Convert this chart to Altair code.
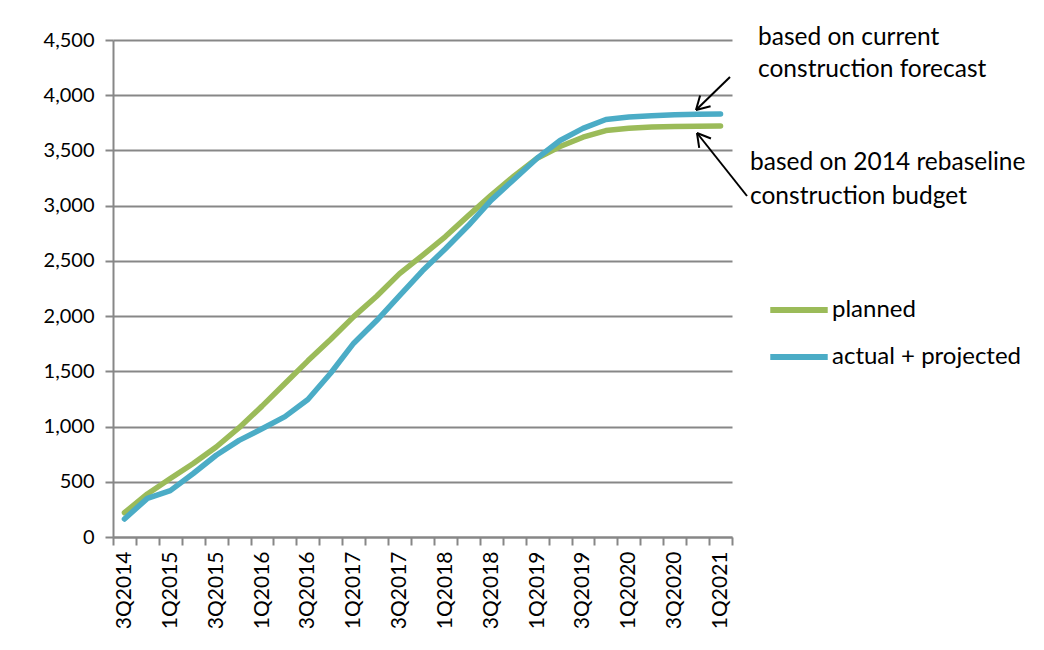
import altair as alt
import pandas as pd
import math

quarters = ["3Q2014", "4Q2014",
            "1Q2015", "2Q2015", "3Q2015", "4Q2015",
            "1Q2016", "2Q2016", "3Q2016", "4Q2016",
            "1Q2017", "2Q2017", "3Q2017", "4Q2017",
            "1Q2018", "2Q2018", "3Q2018", "4Q2018",
            "1Q2019", "2Q2019", "3Q2019", "4Q2019",
            "1Q2020", "2Q2020", "3Q2020", "4Q2020",
            "1Q2021"]

planned = [220, 390, 530, 665, 815, 990, 1185, 1390, 1595, 1790,
           1995, 2180, 2385, 2550, 2720, 2910, 3095, 3270, 3430, 3535,
           3620, 3680, 3700, 3712, 3716, 3719, 3721]

actual = [163, 350, 420, 575, 740, 875, 980, 1090, 1245, 1485,
          1755, 1960, 2185, 2410, 2610, 2820, 3050, 3240, 3430, 3590,
          3700, 3780, 3802, 3815, 3823, 3827, 3830]

series_names = ["planned", "actual + projected"]
series_colors = ["#9BBB59", "#4BACC6"]

y_ticks = [0, 500, 1000, 1500, 2000, 2500, 3000, 3500, 4000, 4500]

rows = []
for q, p, a in zip(quarters, planned, actual):
    rows.append({"quarter": q, "series": series_names[0], "value": p})
    rows.append({"quarter": q, "series": series_names[1], "value": a})
df = pd.DataFrame(rows)

FONT = "Lato"
W, H = 619, 497
GRID = "#878787"

lines = alt.Chart(df).mark_line(strokeWidth=5.5, strokeCap="round", strokeJoin="round").encode(
    x=alt.X("quarter:N", sort=quarters, bandPosition=0.5,
            scale=alt.Scale(type="band", paddingInner=0, paddingOuter=0),
            axis=alt.Axis(title=None, labelAngle=270, labelFont=FONT, labelFontSize=21,
                          labelColor="#000000", labelPadding=6, tickBand="extent",
                          tickSize=8, tickColor=GRID, tickWidth=2,
                          domainColor=GRID, domainWidth=2, grid=False,
                          labelOverlap=False,
                          labelExpr="(substring(datum.value,0,1) == '1' || substring(datum.value,0,1) == '3') ? datum.value : ''")),
    y=alt.Y("value:Q", scale=alt.Scale(domain=[0, 4500], nice=False),
            axis=alt.Axis(title=None, values=y_ticks, format=",.0f", labelFont=FONT,
                          labelFontSize=20, labelColor="#000000", labelPadding=11,
                          tickSize=8, tickColor=GRID, tickWidth=2,
                          domainColor=GRID, domainWidth=2,
                          grid=True, gridColor=GRID, gridWidth=2)),
    color=alt.Color("series:N",
                    scale=alt.Scale(domain=series_names, range=series_colors),
                    legend=alt.Legend(title=None, orient="none", legendX=654, legendY=238,
                                      symbolType="stroke", symbolStrokeWidth=6,
                                      symbolSize=3300, labelFont=FONT, labelFontSize=24,
                                      labelColor="#000000", labelOffset=1, rowPadding=3,
                                      labelLimit=400)),
    order=alt.Order("series:N"),
)

note1 = alt.Chart(pd.DataFrame({"a": [0]})).mark_text(
    align="left", baseline="middle", font=FONT, fontSize=24.5, lineHeight=32, color="#000000"
).encode(x=alt.value(645), y=alt.value(-2),
         text=alt.value(["based on current", "construction forecast"]))
note2 = alt.Chart(pd.DataFrame({"a": [0]})).mark_text(
    align="left", baseline="middle", font=FONT, fontSize=24.5, lineHeight=34, color="#000000"
).encode(x=alt.value(637), y=alt.value(123),
         text=alt.value(["based on 2014 rebaseline", "construction budget"]))


def arrow(tx, ty, hx, hy, wing=15, spread=30):
    base = alt.Chart(pd.DataFrame({"a": [0]})).mark_rule(color="#000000", strokeWidth=2)
    parts = [base.encode(x=alt.value(tx), y=alt.value(ty), x2=alt.value(hx), y2=alt.value(hy))]
    ang = math.atan2(ty - hy, tx - hx)
    for s in (-spread, spread):
        a = ang + math.radians(s)
        parts.append(base.encode(x=alt.value(hx), y=alt.value(hy),
                                 x2=alt.value(hx + wing * math.cos(a)),
                                 y2=alt.value(hy + wing * math.sin(a))))
    return parts

arrows = arrow(617, 37, 583, 70) + arrow(634, 156, 584, 93)

chart = alt.layer(lines, note1, note2, *arrows).properties(
    width=W, height=H,
    autosize=alt.AutoSizeParams(type="none"),
    padding={"left": 105, "top": 32, "right": 300, "bottom": 105},
).configure_view(stroke=None)

chart.save("out.html", embed_options={"renderer": "svg", "actions": False})
